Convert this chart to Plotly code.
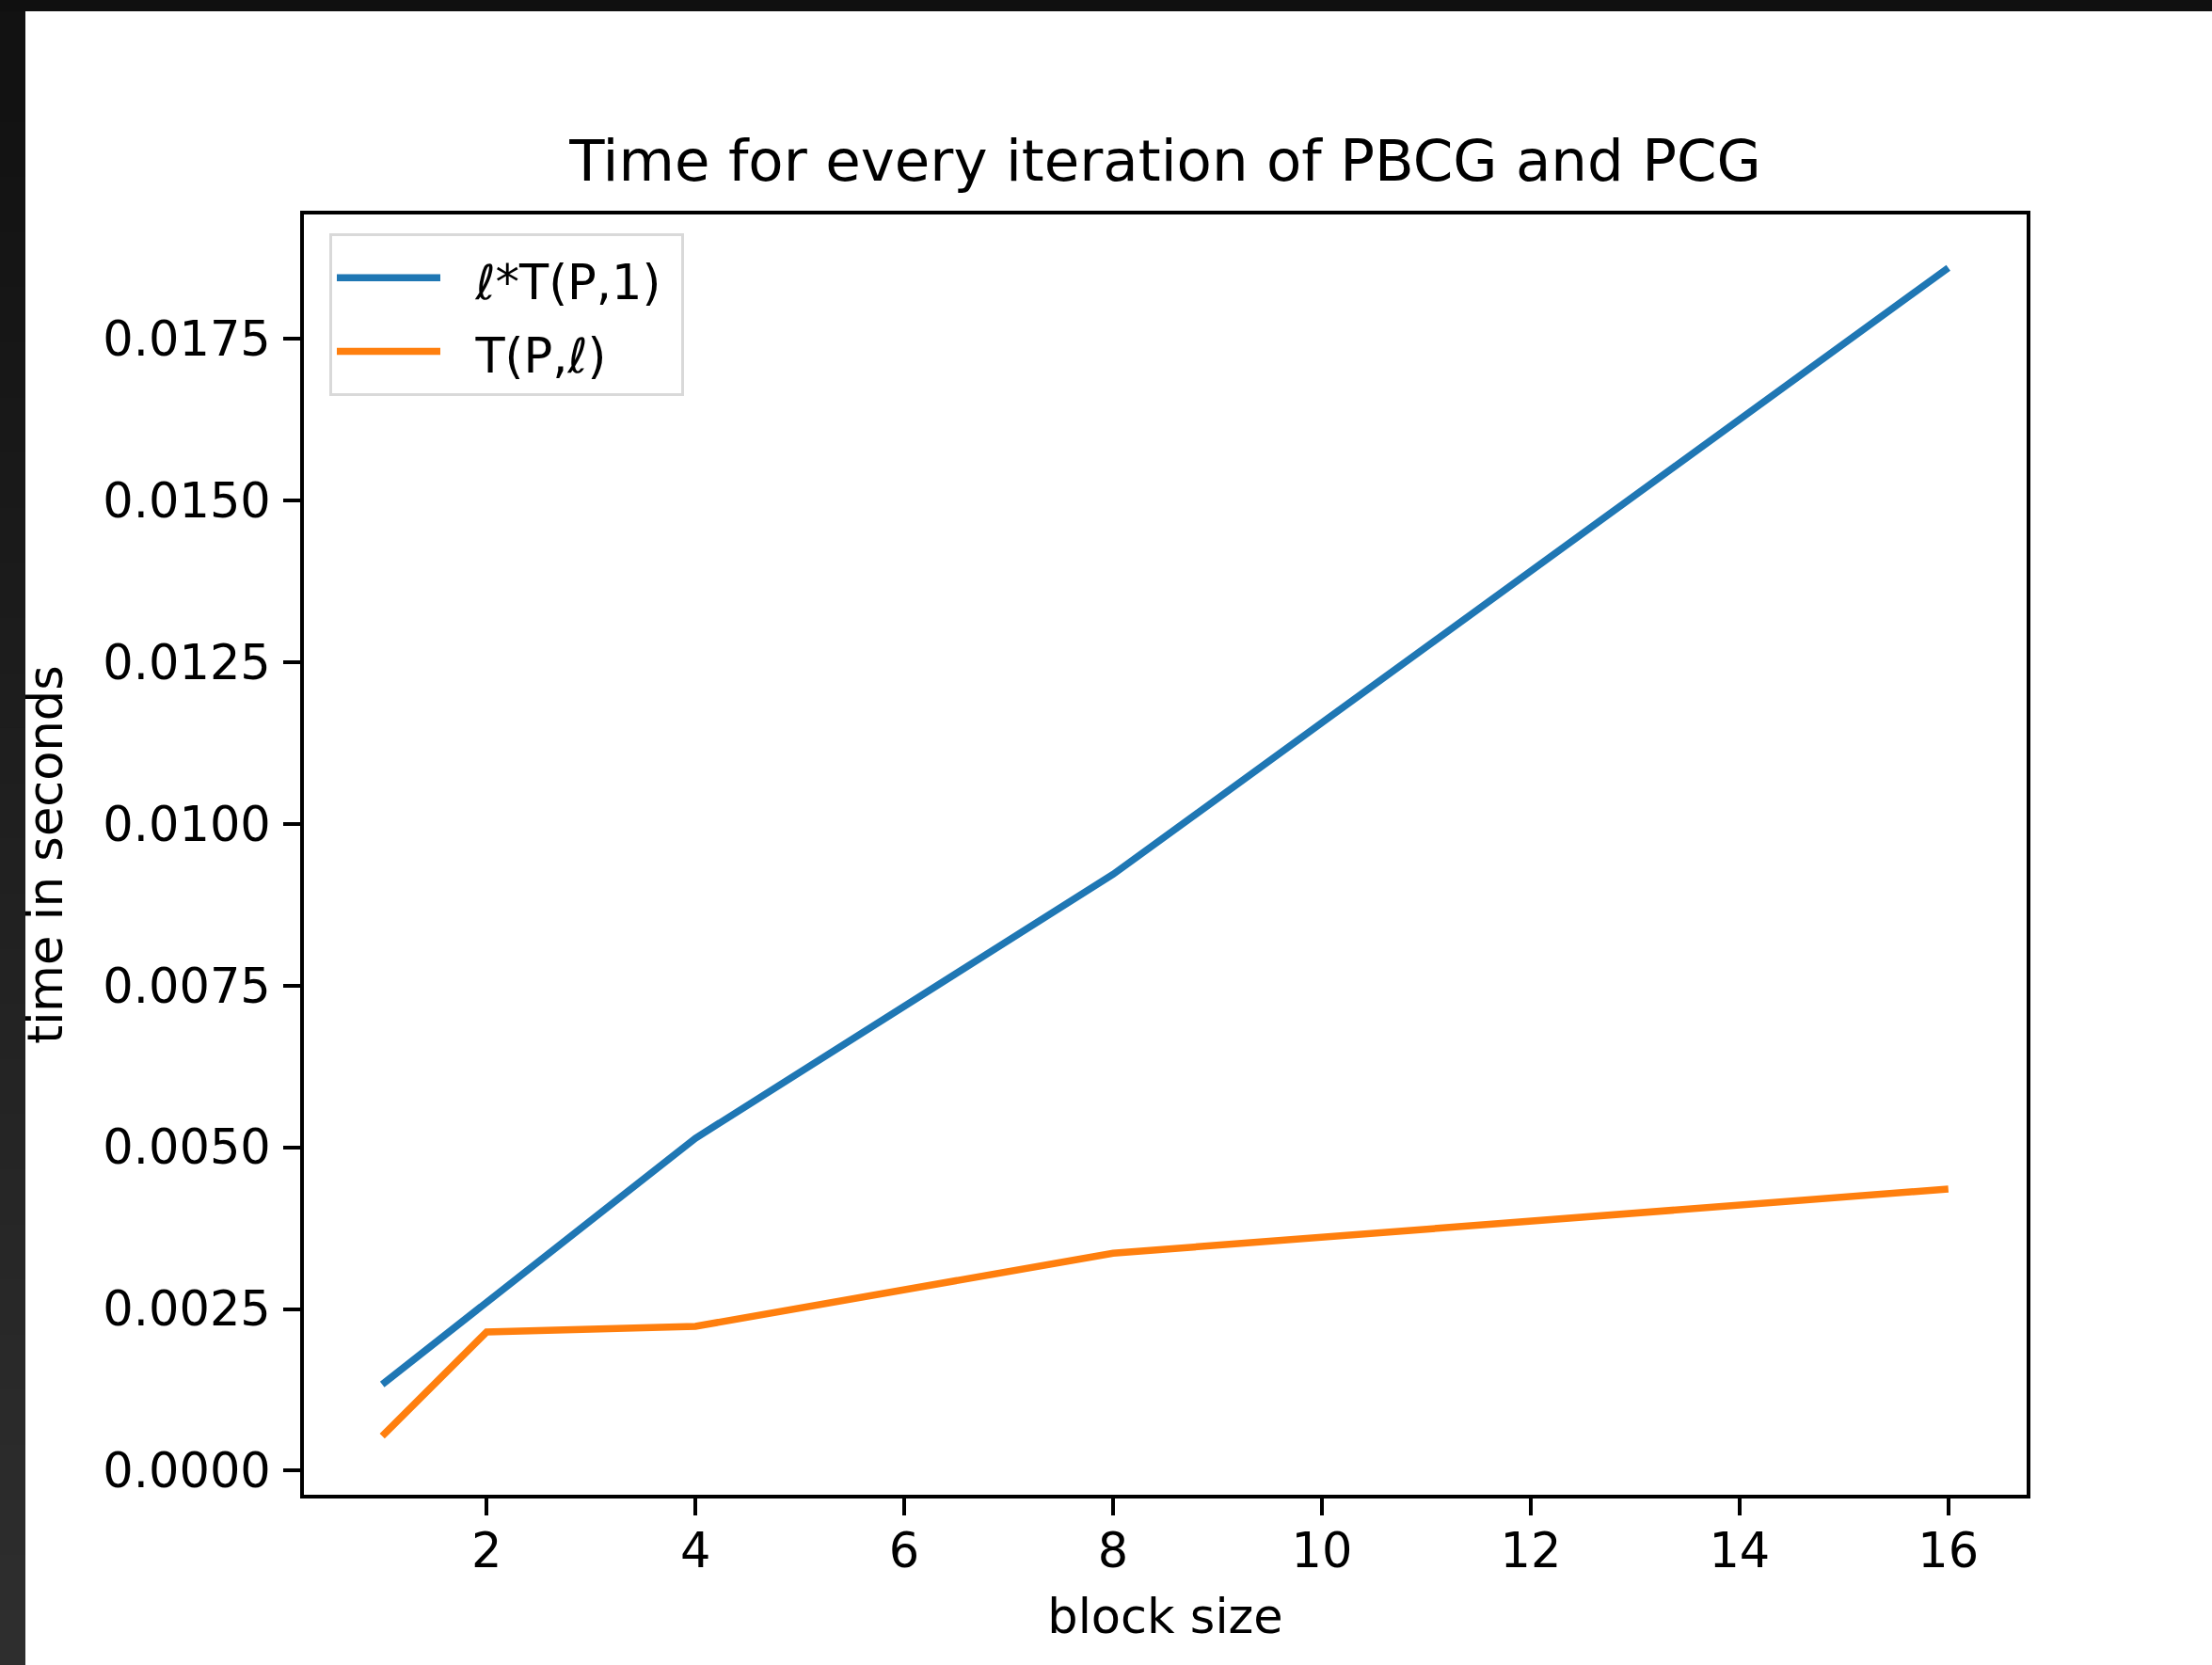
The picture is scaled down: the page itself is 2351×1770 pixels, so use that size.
import plotly.graph_objects as go

# ---- data ----
block_sizes = [1, 2, 4, 8, 16]
l_times_T_P1 = [0.001335, 0.002596, 0.00514, 0.00922, 0.018595]
T_P_l = [0.000535, 0.002145, 0.002232, 0.003362, 0.004355]

series_names = ["<i>ℓ</i>*T(P,1)", "T(P,<i>ℓ</i>)"]
series_colors = ["#1f77b4", "#ff7f0e"]

x_ticks = [2, 4, 6, 8, 10, 12, 14, 16]
y_ticks = [0.0, 0.0025, 0.005, 0.0075, 0.01, 0.0125, 0.015, 0.0175]

title_text = "Time for every iteration of PBCG and PCG"
x_label = "block size"
y_label = "time in seconds"

# ---- layout geometry ----
W, H = 2351, 1770
L, R, T, B = 323, 2154, 228, 1589
pw, ph = R - L, B - T


def px_x(px):
    return (px - L) / pw


def px_y(py):
    return (B - py) / ph


FONT = "DejaVu Sans"
NB = "\u00a0"
FS = 51

fig = go.Figure()
for ys, name, col in zip([l_times_T_P1, T_P_l], series_names, series_colors):
    label = f'<span style="font-size:{FS}px">{NB}{NB}{name}{NB}</span>'
    fig.add_trace(go.Scatter(x=block_sizes, y=ys, mode="lines", name=label,
                             line=dict(color=col, width=7.5)))

shapes = []
# dark screenshot border: top bar and left bar (slight gradient)
shapes.append(dict(type="rect", xref="paper", yref="paper",
                   x0=px_x(0), x1=px_x(W), y0=px_y(12), y1=px_y(0),
                   fillcolor="#101010", line=dict(width=0), layer="above"))
n = 30
for i in range(n):
    t = i / (n - 1)
    c = int(0x12 + (0x2e - 0x12) * t)
    y0p = 12 + (H - 12) * i / n
    y1p = 12 + (H - 12) * (i + 1) / n + 1
    shapes.append(dict(type="rect", xref="paper", yref="paper",
                       x0=px_x(0), x1=px_x(27), y0=px_y(y1p), y1=px_y(y0p),
                       fillcolor=f"rgb({c},{c},{c})", line=dict(width=0), layer="above"))

fig.update_layout(
    width=W, height=H,
    margin=dict(l=L, r=W - R, t=T, b=H - B, pad=0),
    paper_bgcolor="white", plot_bgcolor="white",
    font=dict(family=FONT, size=FS, color="black"),
    title=dict(text=title_text, x=px_x(1238.5), xref="paper", xanchor="center",
               y=1 - 192 / H, yref="container", yanchor="bottom",
               font=dict(family=FONT, size=61, color="black")),
    showlegend=True,
    legend=dict(x=px_x(350), y=px_y(248), xanchor="left", yanchor="top",
                bgcolor="white", bordercolor="#d9d9d9", borderwidth=3,
                font=dict(family=FONT, size=58, color="black"),
                itemwidth=110),
    shapes=shapes,
    xaxis=dict(range=[0.25, 16.75], tickvals=x_ticks, ticktext=[str(v) for v in x_ticks],
               showgrid=False, zeroline=False, showline=True, linecolor="black",
               linewidth=4, mirror=True, ticks="outside", ticklen=18, tickwidth=4,
               tickcolor="black", ticklabelstandoff=-6,
               tickfont=dict(size=FS),
               title=dict(text=x_label, standoff=24, font=dict(size=FS))),
    yaxis=dict(range=[-0.000371, 0.01942], tickvals=y_ticks,
               ticktext=[f"{v:.4f}" for v in y_ticks],
               showgrid=False, zeroline=False, showline=True, linecolor="black",
               linewidth=4, mirror=True, ticks="outside", ticklen=18, tickwidth=4,
               tickcolor="black", ticklabelstandoff=3,
               tickfont=dict(size=FS),
               title=dict(text=y_label, standoff=27, font=dict(size=FS))),
)

fig.write_html("out.html")
